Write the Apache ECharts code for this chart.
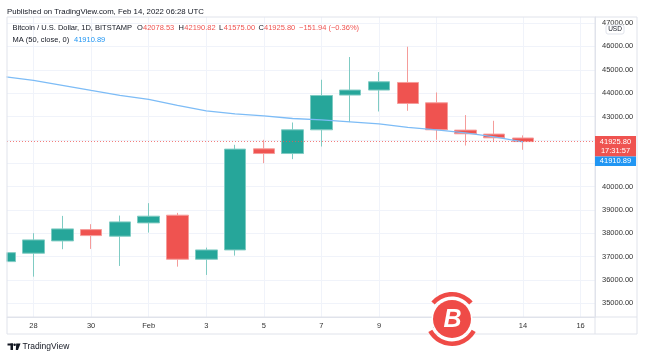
<!DOCTYPE html>
<html><head><meta charset="utf-8">
<script src="https://cdn.jsdelivr.net/npm/echarts@6/dist/echarts.min.js"></script>
<style>html,body{margin:0;padding:0;background:#fff}#c{width:646px;height:358px}</style>
</head><body><div id="c"></div>
<script>
// Day index: 0 = Jan 27, 2022
const dayIndex = [0,1,2,3,4,5,6,7,8,9,10,11,12,13,14,15,16,17,18];
const opens  = [36786,37146,37673,38157,37874,38444,38774,36888,37287,41616,41414,42430,43917,44132,44457,43587,42417,42246,42078.53];
const closes = [37171,37716,38187,37900,38487,38731,36888,37287,41603,41414,42430,43900,44132,44487,43557,42430,42259,42087,41925.80];
const lows   = [35500,36143,37317,37330,36601,38029,36571,36216,37043,41003,41174,41714,42760,43215,43244,42002,41757,41903,41575.00];
const highs  = [37240,38003,38744,38389,38757,39289,38873,37386,41787,42002,42743,44573,45546,44903,45988,44029,43060,42816,42190.82];
const maValues = [44702,44543,44337,44114,43900,43737,43480,43244,43116,43030,42914,42859,42773,42687,42537,42430,42302,42130,41910.89];
const xTickDays = [1,3,5,7,9,11,13,15,18,20];
const xTickLabels = ['28','30','Feb','3','5','7','9','11','14','16'];
const yTickValues = [35000,36000,37000,38000,39000,40000,41000,42000,43000,44000,45000,46000,47000];
const lastPrice = 41925.80;
const lastMA = 41910.89;

const FF = '"Liberation Sans", Arial, sans-serif';
const GREEN = '#26a69a', RED = '#ef5350', BLUE = '#2196f3', GRID = '#f0f3fa', FRAME = '#e0e3eb', TXT = '#131722';

const chart = echarts.init(document.getElementById('c'), null, {renderer: 'canvas'});
const candleData = dayIndex.map((d, i) => [d, opens[i], closes[i], lows[i], highs[i]]);
const maData = dayIndex.map((d, i) => [d, maValues[i]]);

chart.setOption({
  animation: false,
  backgroundColor: '#fff',
  grid: {left: 7, right: 51, top: 17, bottom: 41, containLabel: false},
  xAxis: {
    type: 'value', min: 0.08, max: 20.5,
    axisLine: {show: true, lineStyle: {color: FRAME}},
    axisTick: {show: false, customValues: xTickDays},
    axisLabel: {customValues: xTickDays, formatter: v => xTickLabels[xTickDays.indexOf(v)],
      fontSize: 7.5, color: '#333', margin: 5, fontFamily: FF},
    splitLine: {show: true, lineStyle: {color: GRID, width: 1}}
  },
  yAxis: {
    type: 'value', position: 'right', min: 34415, max: 47260, scale: true,
    axisLine: {show: true, lineStyle: {color: FRAME}},
    axisTick: {show: false, customValues: yTickValues},
    axisLabel: {customValues: yTickValues, formatter: v => v.toFixed(2),
      fontSize: 7.5, color: '#333', margin: 7, fontFamily: FF},
    splitLine: {show: true, lineStyle: {color: GRID, width: 1}}
  },
  series: [
    {
      type: 'candlestick', data: candleData, encode: {x: 0, y: [1, 2, 3, 4]},
      barWidth: 22, clip: true, z: 2,
      itemStyle: {color: GREEN, color0: RED, borderColor: '#7fcbc3', borderColor0: '#f59c9a', borderWidth: 1},
      markLine: {
        silent: true, symbol: ['none', 'none'], label: {show: false},
        lineStyle: {type: [1, 2], color: RED, width: 1, opacity: 0.75},
        data: [{yAxis: lastPrice}]
      }
    },
    {
      type: 'line', data: maData, showSymbol: false, symbol: 'none', z: 3,
      lineStyle: {color: '#7dbcf6', width: 1.3}
    }
  ]
});

const yR = chart.convertToPixel({yAxisIndex: 0}, lastPrice);

function txt(x, y, s, color, size, extra) {
  return Object.assign({type: 'text', x: x, y: y, z: 100,
    style: Object.assign({text: s, fill: color, fontSize: size, fontFamily: FF, textVerticalAlign: 'middle'}, extra || {})});
}

const g = [
  // mask outside left plot edge
  {type: 'rect', z: 40, shape: {x: 0, y: 0, width: 6.5, height: 358}, style: {fill: '#fff'}},
  // outer frame
  {type: 'rect', z: 50, shape: {x: 7, y: 17, width: 630, height: 317}, style: {fill: 'none', stroke: FRAME, lineWidth: 1}},
  {type: 'line', z: 50, shape: {x1: 595, y1: 17, x2: 595, y2: 334}, style: {stroke: FRAME, lineWidth: 1}},
  {type: 'line', z: 50, shape: {x1: 7, y1: 317, x2: 637, y2: 317}, style: {stroke: FRAME, lineWidth: 1}},
  // header
  txt(7, 11.5, 'Published on TradingView.com, Feb 14, 2022 06:28 UTC', TXT, 7.8),
  txt(12.5, 28, 'Bitcoin / U.S. Dollar, 1D, BITSTAMP', TXT, 7.5),
  txt(137, 28, 'O', TXT, 7.5), txt(143, 28, '42078.53', RED, 7.5),
  txt(178.5, 28, 'H', TXT, 7.5), txt(184.3, 28, '42190.82', RED, 7.5),
  txt(219, 28, 'L', TXT, 7.5), txt(223.8, 28, '41575.00', RED, 7.5),
  txt(258.5, 28, 'C', TXT, 7.5), txt(264, 28, '41925.80', RED, 7.5),
  txt(299, 28, '\u2212151.94 (\u22120.36%)', RED, 7.5),
  txt(12.5, 39.5, 'MA (50, close, 0)', TXT, 7.5), txt(74, 39.5, '41910.89', BLUE, 7.5),
  // USD box
  {type: 'rect', z: 60, shape: {x: 606, y: 25, width: 18, height: 9, r: 2}, style: {fill: '#fff', stroke: FRAME, lineWidth: 1}},
  txt(615, 29.7, 'USD', TXT, 6.5, {textAlign: 'center'}),
  // price boxes
  {type: 'rect', z: 60, shape: {x: 595, y: yR - 5.5, width: 41, height: 20.5}, style: {fill: RED}},
  txt(615.5, yR, '41925.80', '#fff', 7.5, {textAlign: 'center'}),
  txt(615.5, yR + 9.5, '17:31:57', '#fff', 7.5, {textAlign: 'center'}),
  {type: 'rect', z: 60, shape: {x: 595, y: yR + 15, width: 41, height: 9.5}, style: {fill: BLUE}},
  txt(615.5, yR + 19.8, lastMA.toFixed(2), '#fff', 7.5, {textAlign: 'center'}),
  // footer TradingView logo
  {type: 'rect', z: 60, shape: {x: 7.5, y: 343.5, width: 5.5, height: 2}, style: {fill: TXT}},
  {type: 'rect', z: 60, shape: {x: 10.5, y: 343.5, width: 2.5, height: 6.5}, style: {fill: TXT}},
  {type: 'circle', z: 60, shape: {cx: 14.6, cy: 344.8, r: 1.3}, style: {fill: TXT}},
  {type: 'polygon', z: 60, shape: {points: [[16.2, 343.5], [20.5, 343.5], [18, 350], [15.8, 350]]}, style: {fill: TXT}},
  txt(22.5, 347, 'TradingView', TXT, 8.5),
  // bitcoin watermark
  {type: 'sector', z: 70, shape: {cx: 452, cy: 319, r0: 22.5, r: 27, startAngle: 0.5, endAngle: Math.PI - 0.5}, style: {fill: '#ef4b47'}},
  {type: 'sector', z: 70, shape: {cx: 452, cy: 319, r0: 22.5, r: 27, startAngle: Math.PI + 0.7, endAngle: 2 * Math.PI - 0.7}, style: {fill: '#ef4b47'}},
  {type: 'circle', z: 71, shape: {cx: 452, cy: 319, r: 20.5}, style: {fill: '#fff'}},
  {type: 'circle', z: 72, shape: {cx: 452, cy: 319, r: 19}, style: {fill: '#ef4b47'}},
  txt(452.5, 320, 'B', '#fff', 25, {textAlign: 'center', fontWeight: 'bold', fontStyle: 'italic', z: 73})
];
chart.setOption({graphic: g});
</script>
</body></html>
